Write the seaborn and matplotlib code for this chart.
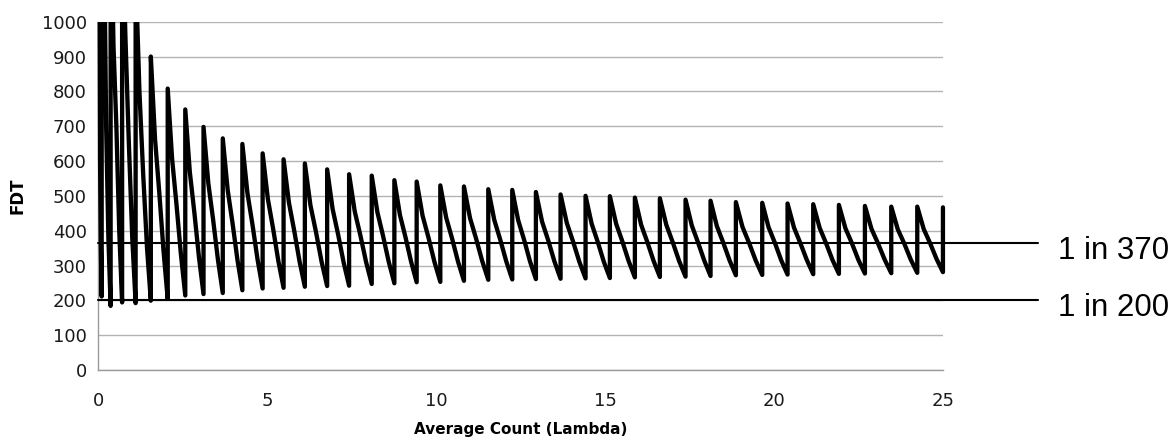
import pandas as pd
import seaborn as sns
import matplotlib.pyplot as plt
from matplotlib.patches import Rectangle

# lambda values where the limit steps up (start of each tooth)
jump_x = [0.0, 0.095, 0.36, 0.70, 1.10, 1.55, 2.05, 2.57, 3.11, 3.68,
          4.26, 4.86, 5.48, 6.11, 6.77, 7.42, 8.09, 8.76, 9.42, 10.12,
          10.82, 11.54, 12.25, 12.95, 13.68, 14.42, 15.14, 15.88, 16.62, 17.38,
          18.12, 18.87, 19.65, 20.40, 21.16, 21.92, 22.69, 23.47, 24.24, 25.0]
# FDT right after each step (first ones go off the top of the chart)
peaks = [3000, 3000, 1400, 1300, 1150, 900, 808, 748, 698, 665,
         649, 622, 605, 593, 576, 562, 558, 545, 541, 530,
         527, 519, 517, 511, 504, 500, 499, 495, 493, 489,
         486, 482, 480, 478, 476, 474, 471, 469, 469, 467]
# FDT a quarter, half and three quarters of the way along each tooth
quarter1 = [1400, 1300, 930, 950, 800, 663, 606, 568, 536, 517,
            508, 491, 481, 473, 462, 455, 453, 445, 443, 437,
            436, 431, 430, 426, 422, 420, 420, 417, 417, 415,
            413, 411, 410, 409, 408, 407, 405, 404, 405]
mids = [600, 700, 700, 650, 560, 510, 475, 451, 431, 421,
        417, 406, 400, 396, 389, 386, 385, 381, 380, 377,
        377, 374, 374, 372, 369, 368, 369, 367, 367, 366,
        366, 365, 365, 364, 364, 364, 363, 363, 364]
quarter3 = [350, 380, 400, 380, 350, 343, 333, 324, 316, 316,
            317, 313, 312, 311, 309, 310, 311, 311, 311, 311,
            313, 312, 312, 312, 311, 311, 313, 313, 313, 314,
            315, 315, 315, 316, 316, 316, 317, 317, 319]
# FDT just before the next step
troughs = [211, 184, 194, 192, 199, 204, 214, 218, 221, 229,
           234, 236, 239, 241, 242, 247, 249, 252, 253, 256,
           259, 260, 261, 262, 263, 264, 266, 267, 268, 270,
           272, 273, 274, 275, 276, 277, 278, 279, 281]

limit_values = [365, 200]
limit_labels = ["1 in 370", "1 in 200"]
x_ticks = [0, 5, 10, 15, 20, 25]
y_ticks = [0, 100, 200, 300, 400, 500, 600, 700, 800, 900, 1000]


def buildSawtooth(jump_x, peaks, quarter1, mids, quarter3, troughs):
    xs, ys = [], []
    for i in range(len(troughs)):
        x0, x1 = jump_x[i], jump_x[i + 1]
        for frac, val in zip([0, 0.25, 0.5, 0.75, 1],
                             [peaks[i], quarter1[i], mids[i], quarter3[i], troughs[i]]):
            xs.append(x0 + frac * (x1 - x0))
            ys.append(val)
    xs.append(jump_x[-1])
    ys.append(peaks[-1])
    return pd.DataFrame({"lambda": xs, "fdt": ys})


sns.set_style("white")
plt.rcParams['font.family'] = ['DejaVu Sans']

fig = plt.figure(figsize=(11.75, 4.41), dpi=100)
ax = fig.add_axes([0.0838, 0.161, 0.7187, 0.7898])

df = buildSawtooth(jump_x, peaks, quarter1, mids, quarter3, troughs)
sns.lineplot(data=df, x="lambda", y="fdt", sort=False, estimator=None,
             color="black", linewidth=3.1, ax=ax, zorder=3)

# clip only at the top so the end strokes are not cut in half
clip = Rectangle((-1, -100), 27, 1100, transform=ax.transData, visible=False)
ax.add_patch(clip)
for line in ax.lines:
    line.set_clip_path(clip)

line_end = 27.8
label_x = 28.4
for val, lab in zip(limit_values, limit_labels):
    ax.plot([0, line_end], [val, val], color="black", linewidth=1.5,
            clip_on=False, zorder=4)
    ax.annotate(lab, xy=(label_x, val), xytext=(0, -11.5), textcoords="offset points",
                fontsize=22.5, family="Liberation Sans", color="black",
                va="baseline", ha="left", annotation_clip=False)

ax.set_xlim(0, 25)
ax.set_ylim(0, 1000)
ax.set_xticks(x_ticks)
ax.set_yticks(y_ticks)
ax.grid(axis="y", color="#b3b3b3", linewidth=1)
ax.grid(axis="x", visible=False)
ax.set_axisbelow(True)

for side in ["top", "right"]:
    ax.spines[side].set_visible(False)
for side in ["left", "bottom"]:
    ax.spines[side].set_color("#9a9a9a")
    ax.spines[side].set_linewidth(1)

ax.tick_params(axis="x", length=5, width=1, color="#9a9a9a", pad=10.5,
               labelsize=13, labelcolor="#1a1a1a")
ax.tick_params(axis="y", length=5, width=1, color="#9a9a9a", pad=3.3,
               labelsize=13, labelcolor="#1a1a1a")

ax.set_xlabel("Average Count (Lambda)", fontsize=11, fontweight="bold", color="black")
ax.set_ylabel("FDT", fontsize=12, fontweight="bold", color="black")
ax.xaxis.set_label_coords(0.5, -0.15)
ax.yaxis.set_label_coords(-0.085, 0.5)

plt.savefig("out.png", dpi=100)
